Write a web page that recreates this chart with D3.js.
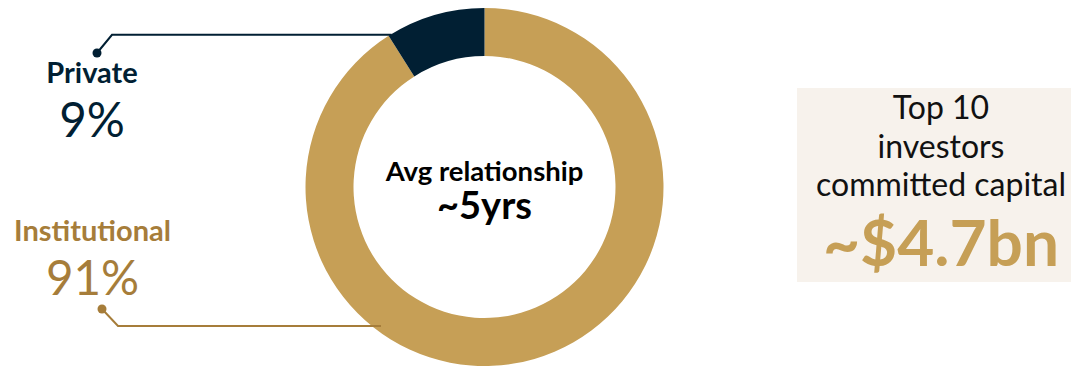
<!DOCTYPE html>
<html>
<head>
<meta charset="utf-8">
<script src="https://cdn.jsdelivr.net/npm/d3@7"></script>
<style>
  html, body { margin: 0; padding: 0; background: #ffffff; }
  svg { display: block; font-family: Lato, "Open Sans", sans-serif; }
</style>
</head>
<body>
<svg id="chart" width="1071" height="367"></svg>
<script>
// Investor mix (share of capital, %)
const segments = ["Institutional", "Private"];
const shares = [91, 9];
const segmentColors = ["#C69F56", "#011F33"];
const labelColors = ["#A67D3A", "#011F33"];

// Centre and side-panel text
const centerLines = ["Avg relationship", "~5yrs"];
const panelLines = ["Top 10", "investors", "committed capital"];
const panelValue = "~$4.7bn";

const svg = d3.select("#chart");
const width = 1071, height = 367;

const cx = 484.5, cy = 187;
const outerR = 179, innerR = 131;

const pie = d3.pie().sort(null).value(d => d.value);
const arcs = pie(segments.map((name, i) => ({ name, value: shares[i], i })));
const arc = d3.arc().innerRadius(innerR).outerRadius(outerR);

const g = svg.append("g").attr("transform", `translate(${cx},${cy})`);
g.selectAll("path.slice")
  .data(arcs)
  .join("path")
  .attr("class", "slice")
  .attr("d", arc)
  .attr("fill", d => segmentColors[d.data.i]);

// Centre caption
g.append("text")
  .attr("text-anchor", "middle")
  .attr("x", 0).attr("y", -6)
  .attr("font-size", 27.5).attr("font-weight", 700).attr("fill", "#000")
  .text(centerLines[0]);
g.append("text")
  .attr("text-anchor", "middle")
  .attr("x", 0).attr("y", 32)
  .attr("font-size", 38).attr("font-weight", 700).attr("fill", "#000")
  .text(centerLines[1]);

// Leader lines and segment labels
const privArc = arcs[1];
const pAngle = privArc.startAngle;
const pEnd = [cx + outerR * Math.sin(pAngle), cy - outerR * Math.cos(pAngle)];

const leaders = [
  { i: 1, dot: [97, 53], elbow: [112, pEnd[1] - 1], end: [pEnd[0] + 3, pEnd[1] - 1] },
  { i: 0, dot: [102, 309], elbow: [118, 326], end: [381, 326] }
];
leaders.forEach(l => {
  svg.append("path")
    .attr("d", d3.line()([l.dot, l.elbow, l.end]))
    .attr("fill", "none")
    .attr("stroke", labelColors[l.i])
    .attr("stroke-width", 2);
  svg.append("circle")
    .attr("cx", l.dot[0]).attr("cy", l.dot[1]).attr("r", 4.5)
    .attr("fill", labelColors[l.i]);
});

const labelPos = [
  { i: 1, x: 92, nameY: 83, valY: 137 },
  { i: 0, x: 92.5, nameY: 241, valY: 295 }
];
labelPos.forEach(p => {
  svg.append("text")
    .attr("x", p.x).attr("y", p.nameY)
    .attr("text-anchor", "middle")
    .attr("font-size", 29).attr("font-weight", 700)
    .attr("fill", labelColors[p.i])
    .text(segments[p.i]);
  svg.append("text")
    .attr("x", p.x).attr("y", p.valY)
    .attr("text-anchor", "middle")
    .attr("font-size", 47.5).attr("font-weight", 400)
    .attr("fill", labelColors[p.i])
    .text(shares[p.i] + "%");
});

// Side panel
const panel = svg.append("g");
panel.append("rect")
  .attr("x", 797).attr("y", 88)
  .attr("width", width - 797).attr("height", 194)
  .attr("fill", "#F7F2EC");
const panelX = 941;
panel.selectAll("text.line")
  .data(panelLines)
  .join("text")
  .attr("class", "line")
  .attr("x", panelX)
  .attr("y", (d, i) => 119 + i * 38.5)
  .attr("text-anchor", "middle")
  .attr("font-size", 32).attr("font-weight", 400)
  .attr("fill", "#111")
  .text(d => d);
panel.append("text")
  .attr("x", panelX).attr("y", 266)
  .attr("text-anchor", "middle")
  .attr("font-size", 64).attr("font-weight", 700)
  .attr("fill", "#C69F56")
  .text(panelValue);
</script>
</body>
</html>
